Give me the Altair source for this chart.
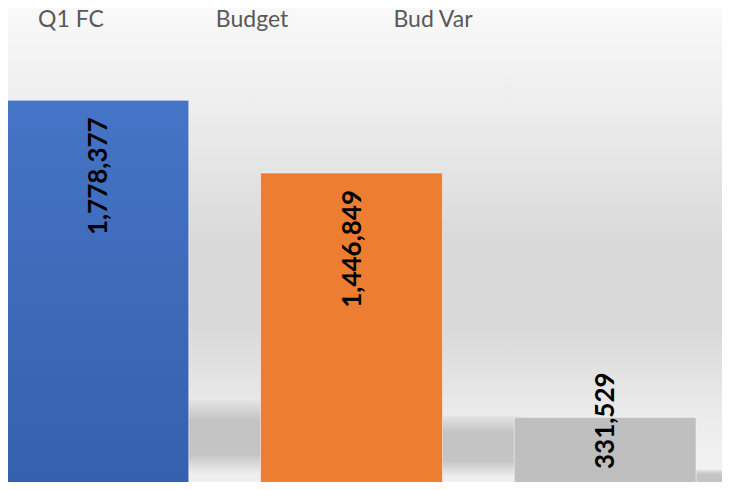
import altair as alt
import pandas as pd

categories = ["Q1 FC", "Budget", "Bud Var"]
values = [1778377, 1446849, 331529]
colors = ["#4472C4", "#ED7D31", "#BFBFBF"]

df = pd.DataFrame({"cat": categories, "value": values})

W, H = 714, 474

xscale = alt.Scale(domain=categories, range=[-37, 724], paddingInner=0.283, paddingOuter=0.1415)
yscale = alt.Scale(domain=[0, 2200000], range=[482, 0])
X = alt.X("cat:N", scale=xscale, axis=None)

bg_grad = {
    "gradient": "linear", "x1": 0, "y1": 0, "x2": 0, "y2": 1,
    "stops": [
        {"offset": 0.0, "color": "#f9f9f9"},
        {"offset": 0.2, "color": "#eeeeee"},
        {"offset": 0.5, "color": "#d9d9d9"},
        {"offset": 0.67, "color": "#d9d9d9"},
        {"offset": 0.87, "color": "#ececec"},
        {"offset": 1.0, "color": "#f3f3f3"},
    ],
}
shadow_grad = {
    "gradient": "linear", "x1": 0, "y1": 0, "x2": 0, "y2": 1,
    "stops": [
        {"offset": 0.0, "color": "#e3e3e3"},
        {"offset": 0.22, "color": "#c4c4c4"},
        {"offset": 0.6, "color": "#c4c4c4"},
        {"offset": 0.82, "color": "#eeeeee"},
        {"offset": 1.0, "color": "#f2f2f2"},
    ],
}
blue_grad = {
    "gradient": "linear", "x1": 0, "y1": 0, "x2": 0, "y2": 1,
    "stops": [
        {"offset": 0.0, "color": "#4674c6"},
        {"offset": 1.0, "color": "#3461ac"},
    ],
}

bg = alt.Chart(pd.DataFrame({"a": [0]})).mark_rect(fill=bg_grad).encode(
    x=alt.value(0), x2=alt.value(W), y=alt.value(0), y2=alt.value(H)
)

shadow = alt.Chart(df).transform_calculate(
    st="datum.value * 0.22", base="0"
).mark_bar(fill=shadow_grad, xOffset=80, yOffset=-4).encode(
    x=X,
    y=alt.Y("st:Q", scale=yscale, axis=None),
    y2="base:Q",
)

bars = alt.Chart(df).mark_bar(stroke="#ffffff", strokeOpacity=0.5, strokeWidth=1).encode(
    x=X,
    y=alt.Y("value:Q", scale=yscale, axis=None),
    fill=alt.condition(
        alt.datum.cat == "Q1 FC",
        alt.value(blue_grad),
        alt.Fill("cat:N", scale=alt.Scale(domain=categories, range=colors), legend=None),
    ),
)

text_style = dict(angle=270, baseline="middle", font="Lato", fontSize=26,
                  fontWeight="bold", color="#000000")

text_big = alt.Chart(df).transform_filter("datum.value >= 700000").mark_text(
    align="right", dx=-17, dy=1, **text_style
).encode(
    x=X,
    y=alt.Y("value:Q", scale=yscale, axis=None),
    text=alt.Text("value:Q", format=",d"),
)

text_small = alt.Chart(df).transform_filter("datum.value < 700000").transform_calculate(
    base="0"
).mark_text(align="left", dx=21, dy=1, **text_style).encode(
    x=X,
    y=alt.Y("base:Q", scale=yscale, axis=None),
    text=alt.Text("value:Q", format=",d"),
)

labels = alt.Chart(df).mark_text(
    font="Lato", fontSize=23, color="#595959", baseline="alphabetic", align="center"
).encode(
    x=alt.X("cat:N", scale=alt.Scale(domain=categories, range=[-27.5, 515.5],
                                     paddingInner=0, paddingOuter=0), axis=None),
    y=alt.value(19),
    text="cat:N",
)

chart = alt.layer(bg, shadow, bars, text_big, text_small, labels).resolve_scale(
    x="independent"
).properties(
    width=W, height=H, padding=0, autosize=alt.AutoSizeParams(type="none"),
    background="#f4f4f4",
).configure_view(stroke="transparent")

chart.save("out.html", embed_options={"renderer": "svg", "actions": False})
